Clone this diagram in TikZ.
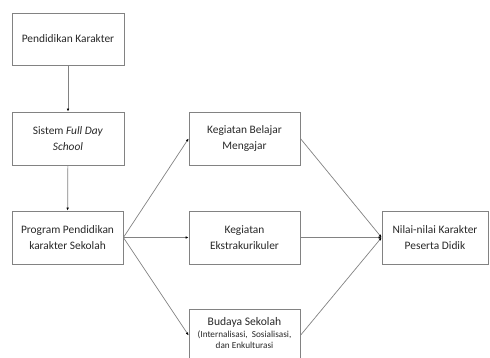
\documentclass[tikz,border=0pt]{standalone}
\usepackage{fontspec}
\setmainfont{Carlito}
\usetikzlibrary{arrows.meta}
\definecolor{linec}{RGB}{130,130,130}
\definecolor{txt}{RGB}{40,40,40}
\tikzset{
  box/.style={draw=linec, line width=0.8pt, fill=white, minimum width=111pt, minimum height=53pt, inner sep=2pt, align=center, text=txt, font=\fontsize{11.4}{16}\selectfont},
  conn/.style={draw=linec, line width=0.7pt, -{Latex[length=3pt,width=2.6pt,color=black]}},
}
\begin{document}
\begin{tikzpicture}[x=1pt,y=-1pt]
\useasboundingbox (0,0) rectangle (490,358);
\node[box, minimum width=112pt, minimum height=52pt] (pk) at (68,39) {Pendidikan Karakter};
\node[box, minimum width=112pt] (fds) at (68,138.5) {Sistem \textit{Full Day}\\\textit{School}};
\node[box] (prog) at (67.5,237.5) {Program Pendidikan\\karakter Sekolah};
\node[box] (kbm) at (244.5,138.5) {Kegiatan Belajar\\Mengajar};
\node[box] (eks) at (244.5,237.5) {Kegiatan\\Ekstrakurikuler};
\node[box, minimum height=52pt, anchor=north] (bud) at (244.5,309) {};
\node[align=center, text=txt, inner sep=0pt] (budt) at (244.5,333) {{\fontsize{11.6}{11}\selectfont Budaya Sekolah}\\[-0.5pt]{\fontsize{9.2}{10}\selectfont (Internalisasi,\ \ Sosialisasi,}\\[-1pt]{\fontsize{9.2}{10}\selectfont dan Enkulturasi}};
\node[box, minimum width=106pt] (nil) at (435,237.5) {Nilai-nilai Karakter\\Peserta Didik};
\draw[conn] (pk) -- (fds);
\draw[conn] (fds) -- (prog);
\draw[conn] (prog.east) -- (kbm.west);
\draw[conn] (prog.east) -- (eks.west);
\draw[conn] (prog.east) -- (bud.west);
\draw[conn] (kbm.east) -- (nil.west);
\draw[conn] (eks.east) -- (nil.west);
\draw[conn] (bud.east) -- (nil.west);
\end{tikzpicture}
\end{document}
